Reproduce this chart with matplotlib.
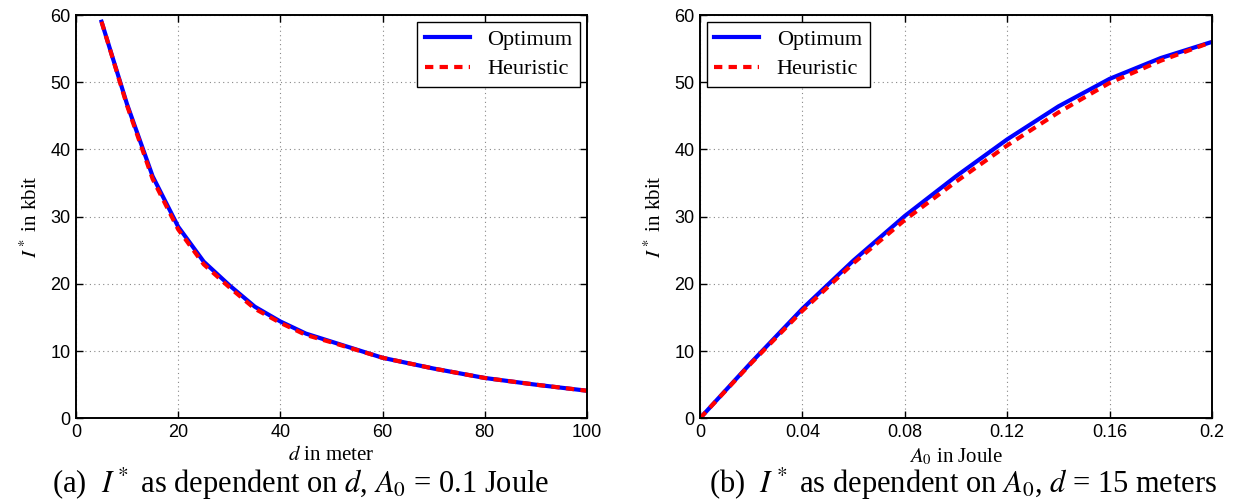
import matplotlib
matplotlib.use("Agg")
import matplotlib.pyplot as plt

# ---- data ----
d_vals = [5, 10, 15, 20, 25, 30, 35, 40, 45, 50, 60, 70, 80, 90, 100]
opt_d = [59.0, 46.7, 36.0, 28.5, 23.3, 19.8, 16.6, 14.4, 12.6, 11.4, 9.0, 7.4, 6.0, 5.0, 4.1]
heu_d = [59.0, 46.5, 35.6, 28.1, 22.9, 19.5, 16.3, 14.2, 12.4, 11.3, 9.0, 7.4, 6.0, 5.0, 4.1]

a_vals = [0, 0.02, 0.04, 0.06, 0.08, 0.10, 0.12, 0.14, 0.16, 0.18, 0.20]
opt_a = [0, 8.3, 16.3, 23.5, 30.1, 36.0, 41.5, 46.4, 50.5, 53.6, 56.0]
heu_a = [0, 8.2, 16.0, 23.1, 29.5, 35.2, 40.6, 45.5, 49.9, 53.2, 56.0]

left_xticks = [0, 20, 40, 60, 80, 100]
right_xticks = [0, 0.04, 0.08, 0.12, 0.16, 0.2]
right_xticklabels = ["0", "0.04", "0.08", "0.12", "0.16", "0.2"]
yticks = [0, 10, 20, 30, 40, 50, 60]

plt.rcParams['mathtext.fontset'] = 'stix'
SERIF = 'Liberation Serif'
SANS = 'Liberation Sans'

W, H = 1236, 504
fig = plt.figure(figsize=(W / 100, H / 100), dpi=100)

def px_axes(x0, x1, ytop, ybot):
    return fig.add_axes([x0 / W, (H - ybot) / H, (x1 - x0) / W, (ybot - ytop) / H])

axL = px_axes(76, 587, 15, 418.3)
axR = px_axes(700, 1212, 15, 418.3)

def style(ax):
    ax.grid(True, linestyle=(0, (1, 3)), color='#888888', linewidth=0.8)
    ax.tick_params(direction='in', top=True, right=True, length=5, width=1,
                   labelsize=13, pad=4)
    for s in ax.spines.values():
        s.set_linewidth(1.4)
    ax.set_yticks(yticks)
    ax.set_ylim(0, 60)
    for lab in ax.get_yticklabels() + ax.get_xticklabels():
        lab.set_fontfamily(SANS)

def legend(ax, loc):
    leg = ax.legend(loc=loc, prop={'family': SERIF, 'size': 16},
                    fancybox=False, edgecolor='black', framealpha=1,
                    handlelength=2.0, borderpad=0.35, labelspacing=0.4,
                    borderaxespad=0.3, handletextpad=0.8)
    leg.get_frame().set_linewidth(1.0)

# left
axL.plot(d_vals, opt_d, color='#0000ff', lw=3, label='Optimum')
axL.plot(d_vals, heu_d, color='#ff0000', lw=3, ls=(0, (2, 1.5)), label='Heuristic')
axL.set_xlim(0, 100)
axL.set_xticks(left_xticks)
style(axL)
axL.set_xlabel(r"$d$ in meter", fontsize=15, fontfamily=SERIF, labelpad=4)
axL.set_ylabel(r"$I^*$ in kbit", fontsize=15, fontfamily=SERIF, labelpad=6)
legend(axL, 'upper right')

# right
axR.plot(a_vals, opt_a, color='#0000ff', lw=3, label='Optimum')
axR.plot(a_vals, heu_a, color='#ff0000', lw=3, ls=(0, (2, 1.5)), label='Heuristic')
axR.set_xlim(0, 0.2)
axR.set_xticks(right_xticks)
axR.set_xticklabels(right_xticklabels)
style(axR)
axR.set_xlabel(r"$A_0$ in Joule", fontsize=15, fontfamily=SERIF, labelpad=4)
axR.set_ylabel(r"$I^*$ in kbit", fontsize=15, fontfamily=SERIF, labelpad=6)
legend(axR, 'upper left')

# captions
fig.text(301 / W, 1 - 484 / H, r"(a)  $I^*$ as dependent on $d$, $A_0$ = 0.1 Joule",
         ha='center', va='center', fontsize=22, fontfamily=SERIF)
fig.text(963 / W, 1 - 484 / H, r"(b)  $I^*$ as dependent on $A_0$, $d$ = 15 meters",
         ha='center', va='center', fontsize=22, fontfamily=SERIF)

fig.savefig("out.png", dpi=100)
